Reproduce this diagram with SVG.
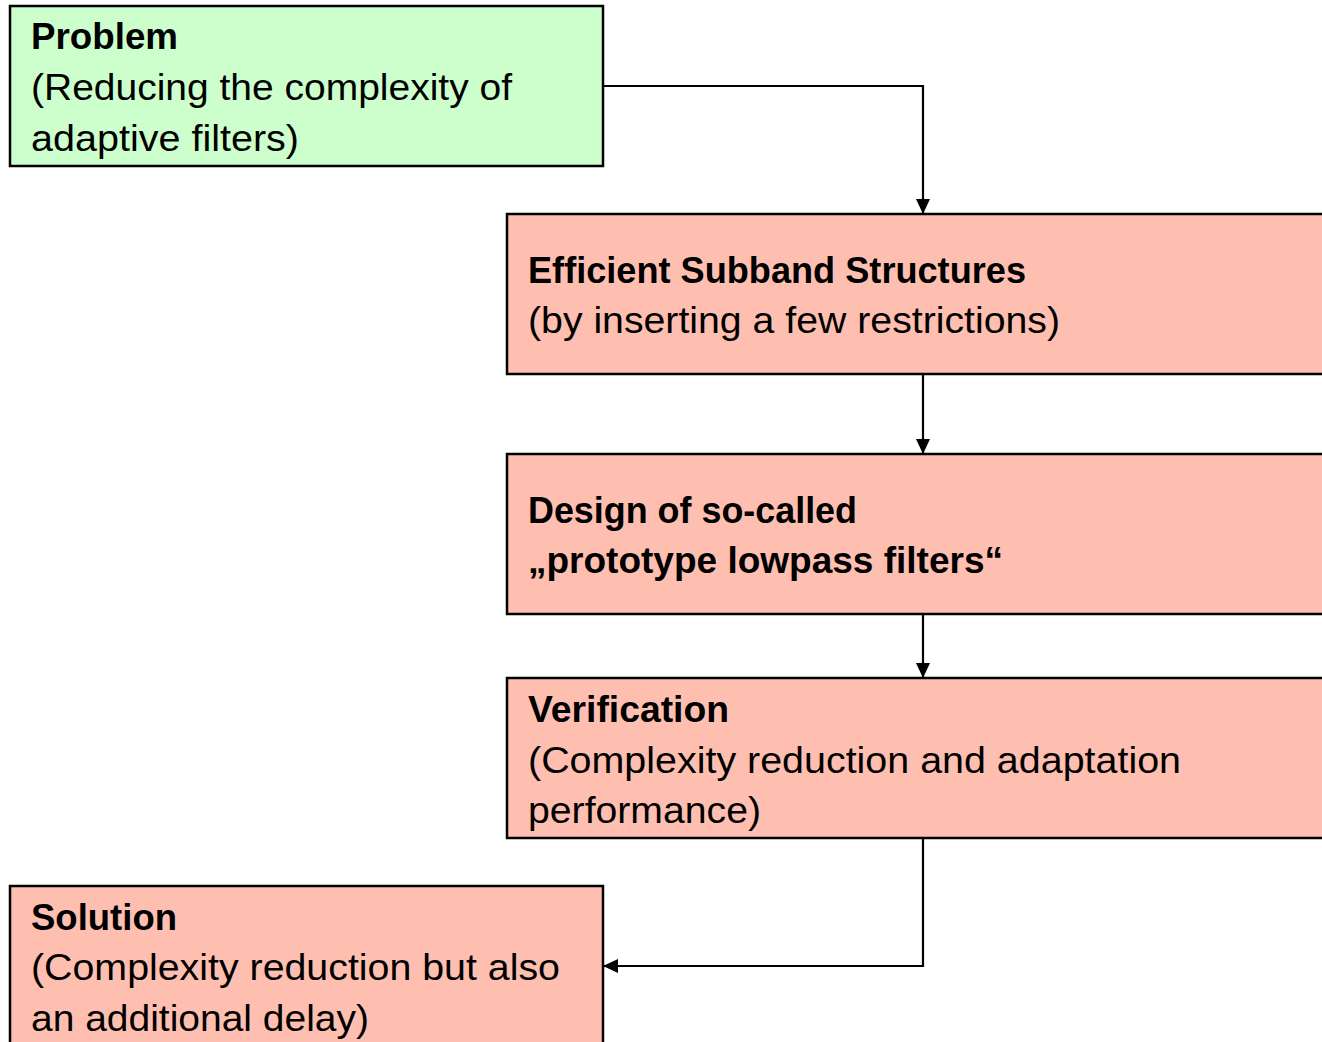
<svg xmlns="http://www.w3.org/2000/svg" width="1322" height="1042" viewBox="0 0 1322 1042">
  <style>
    .box { stroke: #000; stroke-width: 2.5; }
    .green { fill: #ccffcc; }
    .salmon { fill: #ffbfb0; }
    text { font-family: "Liberation Sans", Arial, sans-serif; font-size: 36px; fill: #000; }
    .b { font-weight: bold; }
    .wire { fill: none; stroke: #000; stroke-width: 2.2; }
  </style>
  <defs>
    <marker id="arrow" viewBox="0 0 15 14" refX="15" refY="7" markerWidth="15" markerHeight="14" markerUnits="userSpaceOnUse" orient="auto">
      <path d="M0,0 L15,7 L0,14 Z" fill="#000"/>
    </marker>
  </defs>
  <rect width="1322" height="1042" fill="#fff"/>

  <g id="connectors">
    <path class="wire" d="M603,86 H923 V214" marker-end="url(#arrow)"/>
    <path class="wire" d="M923,374 V454" marker-end="url(#arrow)"/>
    <path class="wire" d="M923,614 V678" marker-end="url(#arrow)"/>
    <path class="wire" d="M923,838 V966 H603" marker-end="url(#arrow)"/>
  </g>

  <g id="problem">
    <rect class="box green" x="10" y="6" width="593" height="160"/>
    <text class="b" x="31" y="49" textLength="147" lengthAdjust="spacingAndGlyphs">Problem</text>
    <text x="31" y="100" textLength="481" lengthAdjust="spacingAndGlyphs">(Reducing the complexity of</text>
    <text x="31" y="151" textLength="268" lengthAdjust="spacingAndGlyphs">adaptive filters)</text>
  </g>

  <g id="subband">
    <rect class="box salmon" x="507" y="214" width="830" height="160"/>
    <text class="b" x="528" y="283" textLength="498" lengthAdjust="spacingAndGlyphs">Efficient Subband Structures</text>
    <text x="528" y="333" textLength="532" lengthAdjust="spacingAndGlyphs">(by inserting a few restrictions)</text>
  </g>

  <g id="prototype">
    <rect class="box salmon" x="507" y="454" width="830" height="160"/>
    <text class="b" x="528" y="523" textLength="329" lengthAdjust="spacingAndGlyphs">Design of so-called</text>
    <text class="b" x="528" y="573" textLength="475" lengthAdjust="spacingAndGlyphs">„prototype lowpass filters“</text>
  </g>

  <g id="verification">
    <rect class="box salmon" x="507" y="678" width="830" height="160"/>
    <text class="b" x="528" y="722" textLength="201" lengthAdjust="spacingAndGlyphs">Verification</text>
    <text x="528" y="773" textLength="653" lengthAdjust="spacingAndGlyphs">(Complexity reduction and adaptation</text>
    <text x="528" y="823" textLength="233" lengthAdjust="spacingAndGlyphs">performance)</text>
  </g>

  <g id="solution">
    <rect class="box salmon" x="10" y="886" width="593" height="170"/>
    <text class="b" x="31" y="930" textLength="146" lengthAdjust="spacingAndGlyphs">Solution</text>
    <text x="31" y="980" textLength="529" lengthAdjust="spacingAndGlyphs">(Complexity reduction but also</text>
    <text x="31" y="1031" textLength="338" lengthAdjust="spacingAndGlyphs">an additional delay)</text>
  </g>
</svg>
